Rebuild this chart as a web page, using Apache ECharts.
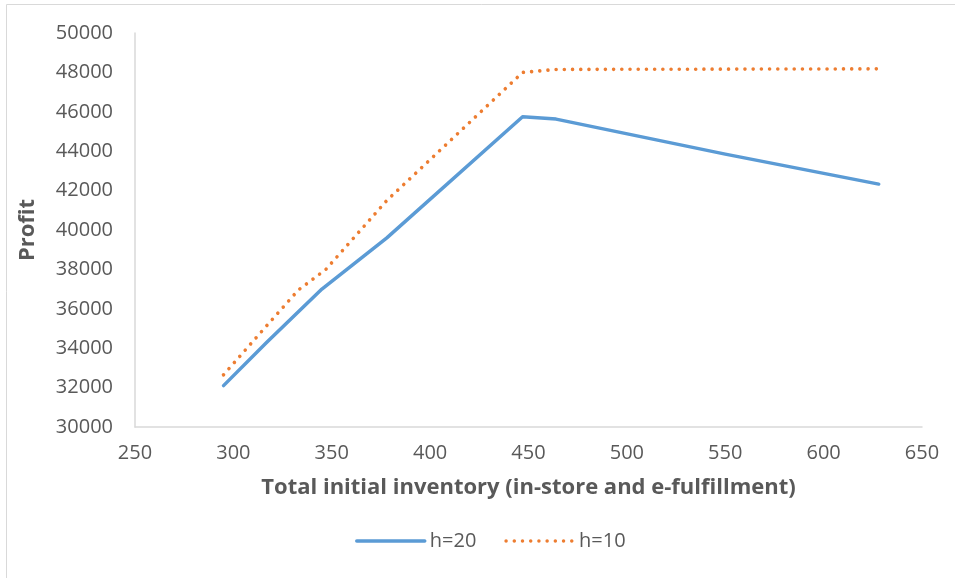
<!DOCTYPE html>
<html>
<head>
<meta charset="utf-8">
<script src="https://cdn.jsdelivr.net/npm/echarts@6/dist/echarts.min.js"></script>
<style>
  html, body { margin: 0; padding: 0; background: #fff; }
  #chart { width: 955px; height: 578px; }
</style>
</head>
<body>
<div id="chart"></div>
<script>
// total initial inventory -> profit
var h20 = [[295, 32100], [317, 34300], [345, 37000], [378, 39600], [447, 45750], [464, 45630], [550, 43850], [628, 42330]];
var h10 = [[295, 32650], [317, 35150], [333, 36950], [347, 38000], [378, 41500], [447, 48000], [464, 48150], [628, 48180]];
var seriesNames = ['h=20', 'h=10'];

var myChart = echarts.init(document.getElementById('chart'));
var font = '"Open Sans", sans-serif';
var option = {
    animation: false,
    graphic: [{
        type: 'rect',
        shape: { x: 6.5, y: 4.5, width: 1000, height: 1000 },
        style: { fill: 'none', stroke: '#d9d9d9', lineWidth: 1 },
        silent: true
    }],
    grid: {
        left: 135,
        right: 33,
        top: 33,
        bottom: 151
    },
    legend: {
        data: seriesNames,
        bottom: 22,
        left: 350,
        itemWidth: 68,
        itemHeight: 14,
        itemGap: 28,
        itemStyle: { opacity: 0 },
        lineStyle: { width: 3.5 },
        textStyle: { color: '#595959', fontSize: 20, fontFamily: font }
    },
    xAxis: {
        type: 'value',
        min: 250,
        max: 650,
        interval: 50,
        name: 'Total initial inventory (in-store and e-fulfillment)',
        nameLocation: 'middle',
        nameGap: 50,
        nameTextStyle: { color: '#595959', fontSize: 22, fontWeight: 'bold', fontFamily: font },
        axisLine: { show: true, lineStyle: { color: '#d9d9d9', width: 1.5 } },
        axisTick: { show: false },
        splitLine: { show: false },
        axisLabel: { color: '#595959', fontSize: 20, fontFamily: font, margin: 16 }
    },
    yAxis: {
        type: 'value',
        min: 30000,
        max: 50000,
        interval: 2000,
        name: 'Profit',
        nameLocation: 'middle',
        nameGap: 96,
        nameTextStyle: { color: '#595959', fontSize: 22, fontWeight: 'bold', fontFamily: font },
        axisLine: { show: true, lineStyle: { color: '#d9d9d9', width: 1.5 } },
        axisTick: { show: false },
        splitLine: { show: false },
        axisLabel: {
            color: '#595959', fontSize: 20, fontFamily: font, margin: 22,
            formatter: function (v) { return String(v); }
        }
    },
    series: [
        {
            name: 'h=20',
            type: 'line',
            symbol: 'none',
            data: h20,
            lineStyle: { color: '#5b9bd5', width: 3.5, cap: 'round', join: 'round' },
            itemStyle: { color: '#5b9bd5' }
        },
        {
            name: 'h=10',
            type: 'line',
            symbol: 'none',
            data: h10,
            lineStyle: { color: '#ed7d31', width: 3.6, type: [0.01, 8.2], cap: 'round' },
            itemStyle: { color: '#ed7d31' }
        }
    ]
};
myChart.setOption(option);
window.onresize = function () {
    myChart.resize();
};
</script>
</body>
</html>
